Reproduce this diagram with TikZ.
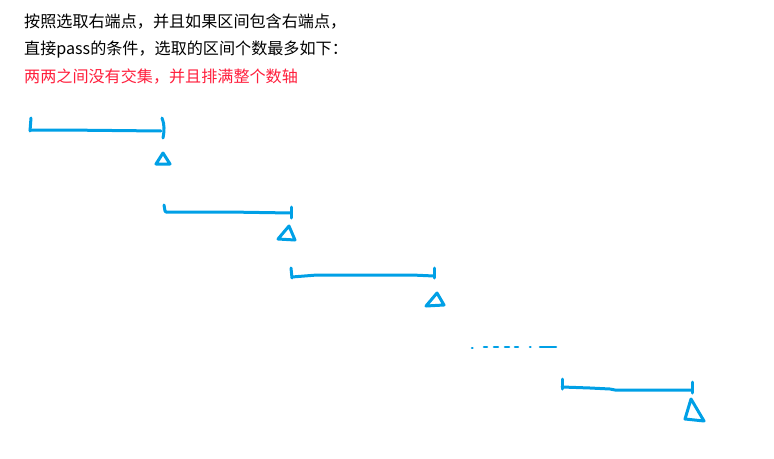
\documentclass[tikz,border=0pt]{standalone}
\usepackage{fontspec}
\setmainfont{Noto Sans CJK SC}
\definecolor{penblue}{RGB}{0,160,230}
\definecolor{notered}{RGB}{255,30,60}
\tikzset{
    txt/.style={
        font=\fontsize{16.1}{20}\selectfont, anchor=west, inner sep=0pt
    }
}

\begin{document}
\begin{tikzpicture}[x=1pt,y=-1pt, line cap=round, line join=round]

\tikzset{
  pen/.style={draw=penblue, line width=3pt},
  dots/.style={draw=penblue, line width=2.6pt},
}

\useasboundingbox (0,0) rectangle (774,458);

% text
\node[txt] (l1) at (24,22) {按照选取右端点，并且如果区间包含右端点，};
\node[txt] (l2) at (24,50) {直接pass的条件，选取的区间个数最多如下：};
\node[txt, text=notered] (l3) at (24,77) {两两之间没有交集，并且排满整个数轴};

% interval 1
\coordinate (A1) at (30,130);
\coordinate (B1) at (161,131);
\draw[pen] (31,118) -- (30,131);
\draw[pen] (A1) -- (63,130) -- (B1);
\draw[pen] (162,118) to[out=-70,in=80] (163,138);
\draw[pen] (163,153) -- (156,164) -- (170,164) -- cycle;

% interval 2
\coordinate (A2) at (166,212);
\coordinate (B2) at (291,213);
\draw[pen] (164,205) -- (165,211) -- (A2);
\draw[pen] (A2) -- (228,212) -- (B2);
\draw[pen] (291,207) -- (291,218);
\draw[pen] (289,226) -- (278,239) -- (295,240) -- cycle;

% interval 3
\coordinate (A3) at (292,277);
\coordinate (B3) at (434,276);
\draw[pen] (291,268) -- (292,278);
\draw[pen] (A3) -- (317,275) -- (412,275) -- (B3);
\draw[pen] (434,268) -- (434,278);
\draw[pen] (437,293) -- (426,306) -- (444,305) -- cycle;

% dots
\draw[dots] (472,348) -- (472.5,348);
\draw[dots] (484,347) -- (487,347);
\draw[dots] (494,347) -- (498,347);
\draw[dots] (505,347) -- (509,347);
\draw[dots] (515,347) -- (518,347);
\draw[dots] (530,347) -- (530.5,347);
\draw[dots] (540,347) -- (556,347);

% interval 4
\coordinate (A4) at (562,387);
\coordinate (B4) at (692,390);
\draw[pen] (562,379) -- (562,389);
\draw[pen] (A4) -- (590,388) -- (610,389) -- (615,390) -- (B4);
\draw[pen] (692,382) -- (692,393);
\draw[pen] (691,399) -- (685,419) -- (704,421) -- cycle;

\end{tikzpicture}
\end{document}
